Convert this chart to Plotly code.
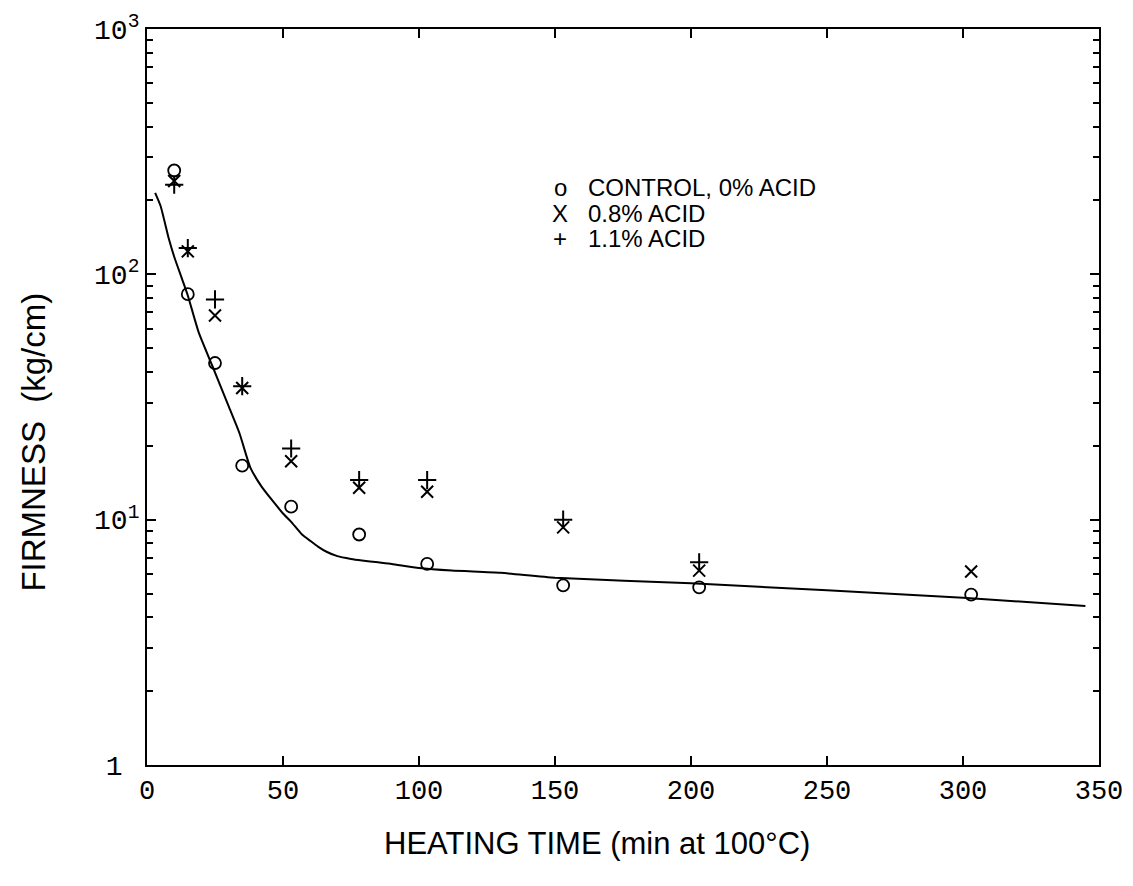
import plotly.graph_objects as go

# Data
time_control = [10, 15, 25, 35, 53, 78, 103, 153, 203, 303]
firm_control = [265, 83, 43.5, 16.6, 11.3, 8.7, 6.6, 5.4, 5.3, 4.95]

time_08 = [10, 15, 25, 35, 53, 78, 103, 153, 203, 303]
firm_08 = [240, 124, 68, 34.4, 17.3, 13.5, 13.0, 9.3, 6.2, 6.15]

time_11 = [10, 15, 25, 35, 53, 78, 103, 153, 203]
firm_11 = [232, 128, 79, 35, 19.5, 14.5, 14.5, 10.0, 6.7]

curve_time = [3, 5, 8, 10, 13, 15, 19, 24, 30, 34, 38, 42, 46, 50, 53, 57, 60, 63, 66, 70,
              75, 79, 85, 90, 100, 112, 130, 150, 200, 250, 300, 345]
curve_firm = [215, 190, 140, 118, 95, 82, 58, 42.4, 29, 22.5, 16.3, 13.7, 12.0, 10.6, 9.8,
              8.7, 8.2, 7.75, 7.4, 7.1, 6.92, 6.82, 6.7, 6.6, 6.35, 6.2, 6.07, 5.8, 5.5, 5.15,
              4.8, 4.45]

x_ticks = [0, 50, 100, 150, 200, 250, 300, 350]
y_ticks = [1, 10, 100, 1000]
y_ticktext = ["1&nbsp;", "10<sup>1</sup>", "10<sup>2</sup>", "10<sup>3</sup>"]
y_minor = [m * d for d in (1, 10, 100) for m in range(2, 10)]

legend_symbols = ["o", "X", "+"]
legend_names = ["CONTROL, 0% ACID", "0.8% ACID", "1.1% ACID"]
x_title = "HEATING TIME (min at 100°C)"
y_title = "FIRMNESS  (kg/cm)"

fig = go.Figure()
fig.add_trace(go.Scatter(x=curve_time, y=curve_firm, mode="lines",
                         line=dict(color="black", width=2, shape="spline", smoothing=0.5),
                         showlegend=False))
fig.add_trace(go.Scatter(x=time_control, y=firm_control, mode="markers", name=legend_names[0],
                         showlegend=False,
                         marker=dict(symbol="circle-open", size=12, color="black",
                                     line=dict(width=1.8, color="black"))))
fig.add_trace(go.Scatter(x=time_08, y=firm_08, mode="markers", name=legend_names[1],
                         showlegend=False,
                         marker=dict(symbol="x-thin-open", size=12, color="black",
                                     line=dict(width=2, color="black"))))
fig.add_trace(go.Scatter(x=time_11, y=firm_11, mode="markers", name=legend_names[2],
                         showlegend=False,
                         marker=dict(symbol="cross-thin-open", size=13, color="black",
                                     line=dict(width=2, color="black"))))

# text legend, as in the original figure
leg_font = dict(family="Liberation Sans", size=24, color="black")
leg_y = [0.784, 0.750, 0.716]
for sym, name, yy in zip(legend_symbols, legend_names, leg_y):
    fig.add_annotation(xref="paper", yref="paper", x=0.434, y=yy, text=sym, showarrow=False,
                       xanchor="center", yanchor="middle", font=leg_font)
    fig.add_annotation(xref="paper", yref="paper", x=0.461, y=yy, text=name, showarrow=False,
                       xanchor="left", yanchor="middle", font=leg_font)

# axis titles
fig.add_annotation(xref="paper", yref="paper", x=0.473, y=-0.106, text=x_title,
                   showarrow=False, xanchor="center", yanchor="middle",
                   font=dict(family="Liberation Sans", size=31, color="black"))
fig.add_annotation(xref="paper", yref="paper", x=-0.119, y=0.439, text=y_title,
                   showarrow=False, xanchor="center", yanchor="middle", textangle=-90,
                   font=dict(family="Liberation Sans", size=33, color="black"))

x_font = dict(family="Liberation Mono", size=27, color="black")
y_font = dict(family="Liberation Mono", size=28, color="black")

fig.update_layout(
    width=1133, height=886,
    paper_bgcolor="white", plot_bgcolor="white",
    margin=dict(l=139, r=42, t=21, b=129),
    font=dict(family="Liberation Sans", color="black"),
    showlegend=False,
    xaxis=dict(range=[0, 350], tickvals=x_ticks, ticks="inside", ticklen=9, tickwidth=2,
               tickcolor="black", showline=True, linecolor="black", linewidth=2,
               mirror="ticks", showgrid=False, zeroline=False, tickfont=x_font,
               ticklabelstandoff=0, automargin=False),
    yaxis=dict(type="log", range=[0, 3], tickvals=y_ticks, ticktext=y_ticktext,
               ticks="inside", ticklen=9, tickwidth=2, tickcolor="black",
               showline=True, linecolor="black", linewidth=2, mirror="ticks",
               showgrid=False, zeroline=False, tickfont=y_font, ticklabelstandoff=0,
               automargin=False,
               minor=dict(tickvals=y_minor, ticks="inside", ticklen=6, tickwidth=2,
                          tickcolor="black", showgrid=False)),
)

fig.write_html("out.html")
